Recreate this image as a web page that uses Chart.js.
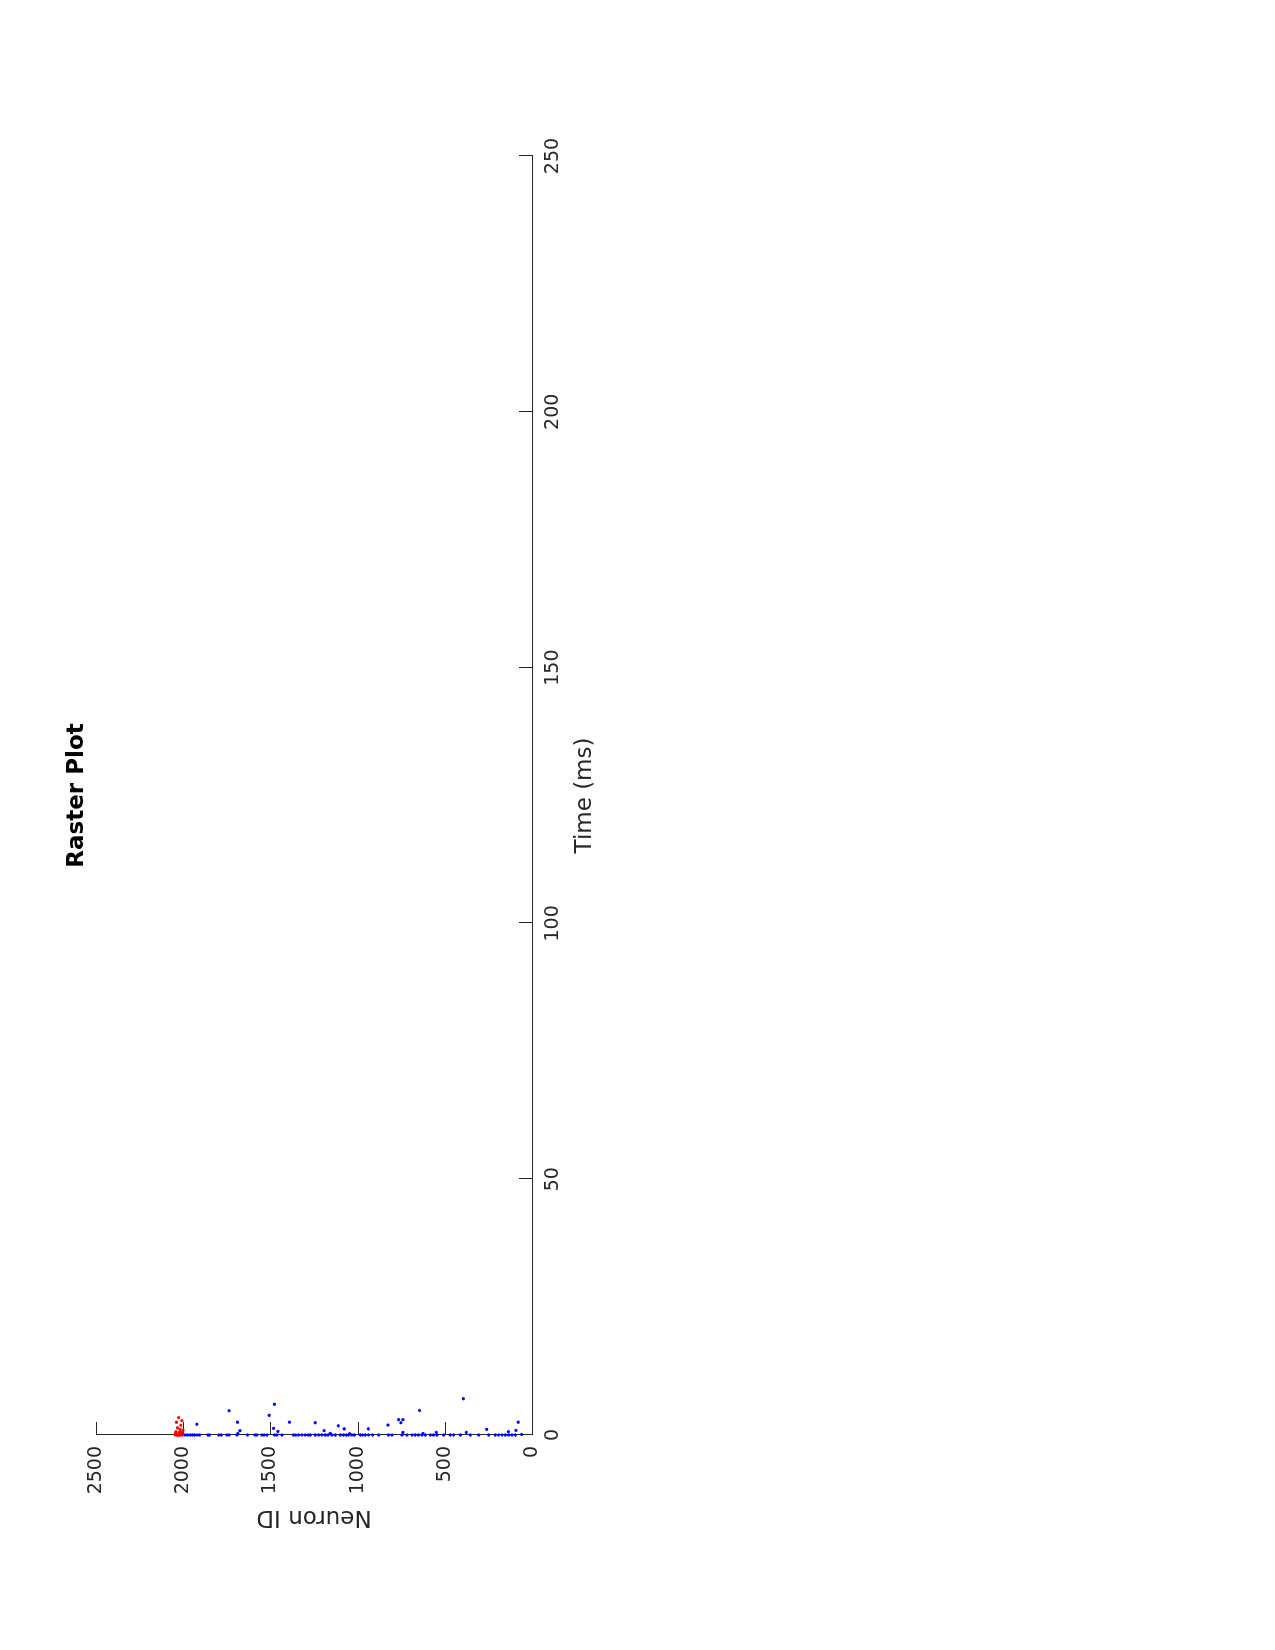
<!DOCTYPE html>
<html>
<head>
<meta charset="utf-8">
<script src="https://cdn.jsdelivr.net/npm/chart.js@4/dist/chart.umd.min.js"></script>
<style>
html,body{margin:0;padding:0;background:#fff;overflow:hidden;width:1275px;height:1650px;}
#wrap{position:absolute;left:0;top:0;width:1650px;height:1275px;transform-origin:0 0;transform:translate(0,1650px) rotate(-90deg);background:#fff;}
canvas{display:block;}
</style>
</head>
<body>
<div id="wrap"><canvas id="c" width="1650" height="1275"></canvas></div>
<script>
// ---- data ----
const chartTitle = 'Raster Plot';
const timeLabel = 'Time (ms)';
const neuronLabel = 'Neuron ID';
const timeTicks = [0, 50, 100, 150, 200, 250];
const neuronTicks = [0, 500, 1000, 1500, 2000, 2500];

// excitatory spikes (blue)
const excNeuron = [1922, 1737, 1689, 1675, 1687, 1507, 1477, 1482, 1457, 1391,
  1243, 1192, 1157, 1111, 1077, 1046, 939, 826, 765, 740, 752, 740, 645, 625,
  549, 394, 377, 260, 136, 92, 79, 60,
  1989, 1976, 1960, 1947, 1936, 1922, 1907, 1859, 1850, 1796, 1782, 1750, 1737,
  1692, 1632, 1589, 1578, 1549, 1536, 1520, 1477, 1463, 1434, 1368, 1354, 1339,
  1320, 1301, 1285, 1272, 1243, 1224, 1205, 1186, 1170, 1147, 1128, 1100, 1081,
  1065, 1052, 1033, 1019, 985, 972, 956, 937, 914, 880, 823, 803, 746, 717, 688,
  670, 651, 631, 612, 583, 565, 545, 507, 469, 450, 411, 354, 306, 249, 211, 192,
  172, 153, 134, 115, 96, 48, 20];
const excTime = [2.1, 4.75, 2.5, 0.85, 0.3, 3.85, 6.0, 1.3, 0.7, 2.5,
  2.4, 0.85, 0.3, 1.8, 1.2, 0.25, 1.2, 1.95, 3.0, 3.0, 2.4, 0.5, 4.8, 0.3,
  0.5, 7.1, 0.5, 1.1, 0.65, 0.9, 2.5, 0.1,
  0, 0, 0, 0, 0, 0, 0, 0, 0, 0, 0, 0, 0,
  0, 0, 0, 0, 0, 0, 0, 0, 0, 0, 0, 0, 0,
  0, 0, 0, 0, 0, 0, 0, 0, 0, 0, 0,
  0, 0, 0, 0, 0, 0, 0, 0, 0, 0, 0, 0, 0, 0, 0,
  0, 0, 0, 0, 0, 0, 0, 0, 0, 0, 0, 0, 0, 0, 0, 0,
  0, 0, 0, 0, 0, 0, 0];

// inhibitory spikes (red)
const inhNeuron = [2027, 2039, 2008, 2014, 2033, 2018, 2042, 2024, 2009, 2045,
  2003, 2036, 2030, 2015, 2005, 2040, 2020, 2047, 2012, 2001, 2022, 2034];
const inhTime = [3.4, 2.5, 2.8, 1.9, 1.4, 1.1, 0.65, 0.5, 0.4, 0.3,
  0.2, 0.1, 0, 0, 0, 0, 0.25, 0.05, 0.6, 0.9, 0, 0];

// ---- styles ----
const FONT = "'DejaVu Sans', sans-serif";
const AXIS_COLOR = '#262626';
const TICK_LEN = 13;

function pairs(times, ids) { return times.map((t, i) => ({ x: t, y: ids[i] })); }

const inwardTicks = {
  id: 'inwardTicks',
  beforeDatasetsDraw(chart) {
    const { ctx, chartArea, scales: { x, y } } = chart;
    ctx.save();
    ctx.strokeStyle = AXIS_COLOR;
    ctx.lineWidth = 1;
    ctx.beginPath();
    x.ticks.forEach(t => {
      const px = Math.round(x.getPixelForValue(t.value)) + 0.5;
      ctx.moveTo(px, chartArea.bottom);
      ctx.lineTo(px, chartArea.bottom - TICK_LEN);
    });
    y.ticks.forEach(t => {
      const py = Math.round(y.getPixelForValue(t.value)) + 0.5;
      ctx.moveTo(chartArea.left, py);
      ctx.lineTo(chartArea.left + TICK_LEN, py);
    });
    ctx.stroke();
    ctx.restore();
  }
};

new Chart(document.getElementById('c'), {
  type: 'scatter',
  data: {
    datasets: [
      { label: 'Excitatory', xAxisID: 'x', yAxisID: 'y', data: pairs(excTime, excNeuron), backgroundColor: '#0000ff', borderWidth: 0, pointRadius: 1.6, clip: false },
      { label: 'Inhibitory', xAxisID: 'x', yAxisID: 'y', data: pairs(inhTime, inhNeuron), backgroundColor: '#ff0000', borderWidth: 0, pointRadius: 1.6, clip: false }
    ]
  },
  options: {
    responsive: false,
    animation: false,
    devicePixelRatio: 1,
    layout: { padding: { left: 0, right: 156, top: 0, bottom: 643 } },
    plugins: {
      legend: { display: false },
      tooltip: { enabled: false },
      title: { display: false }
    },
    scales: {
      x: {
        type: 'linear',
        position: 'bottom',
        min: timeTicks[0],
        max: timeTicks[timeTicks.length - 1],
        afterBuildTicks: s => { s.ticks = timeTicks.map(v => ({ value: v })); },
        afterFit: s => { s.height = 100; },
        grid: { display: false, drawTicks: false },
        border: { display: true, color: AXIS_COLOR, width: 1 },
        ticks: { color: AXIS_COLOR, font: { family: FONT, size: 19 }, padding: 10, maxRotation: 0, callback: v => String(v) },
        title: { display: true, text: timeLabel, color: AXIS_COLOR, font: { family: FONT, size: 23, lineHeight: 1.2 }, padding: { top: 0, bottom: 33 } }
      },
      titleAxis: {
        type: 'linear',
        axis: 'x',
        position: 'top',
        min: 0,
        max: 1,
        afterFit: s => { s.height = 96; },
        grid: { display: false, drawTicks: false },
        border: { display: false },
        ticks: { display: false },
        title: { display: true, text: chartTitle, color: '#000', font: { family: FONT, size: 23, weight: 'bold', lineHeight: 1.2 }, padding: { top: 63.5, bottom: 0 } }
      },
      y: {
        type: 'linear',
        position: 'left',
        min: neuronTicks[0],
        max: neuronTicks[neuronTicks.length - 1],
        afterBuildTicks: s => { s.ticks = neuronTicks.map(v => ({ value: v })); },
        afterFit: s => { s.width = 215; },
        grid: { display: false, drawTicks: false },
        border: { display: true, color: AXIS_COLOR, width: 1 },
        ticks: { color: AXIS_COLOR, font: { family: FONT, size: 19 }, padding: 11, callback: v => String(v) },
        title: { display: true, text: neuronLabel, color: AXIS_COLOR, font: { family: FONT, size: 23, lineHeight: 1.2 }, padding: { top: 119, bottom: 0 } }
      }
    }
  },
  plugins: [inwardTicks]
});
</script>
</body>
</html>
